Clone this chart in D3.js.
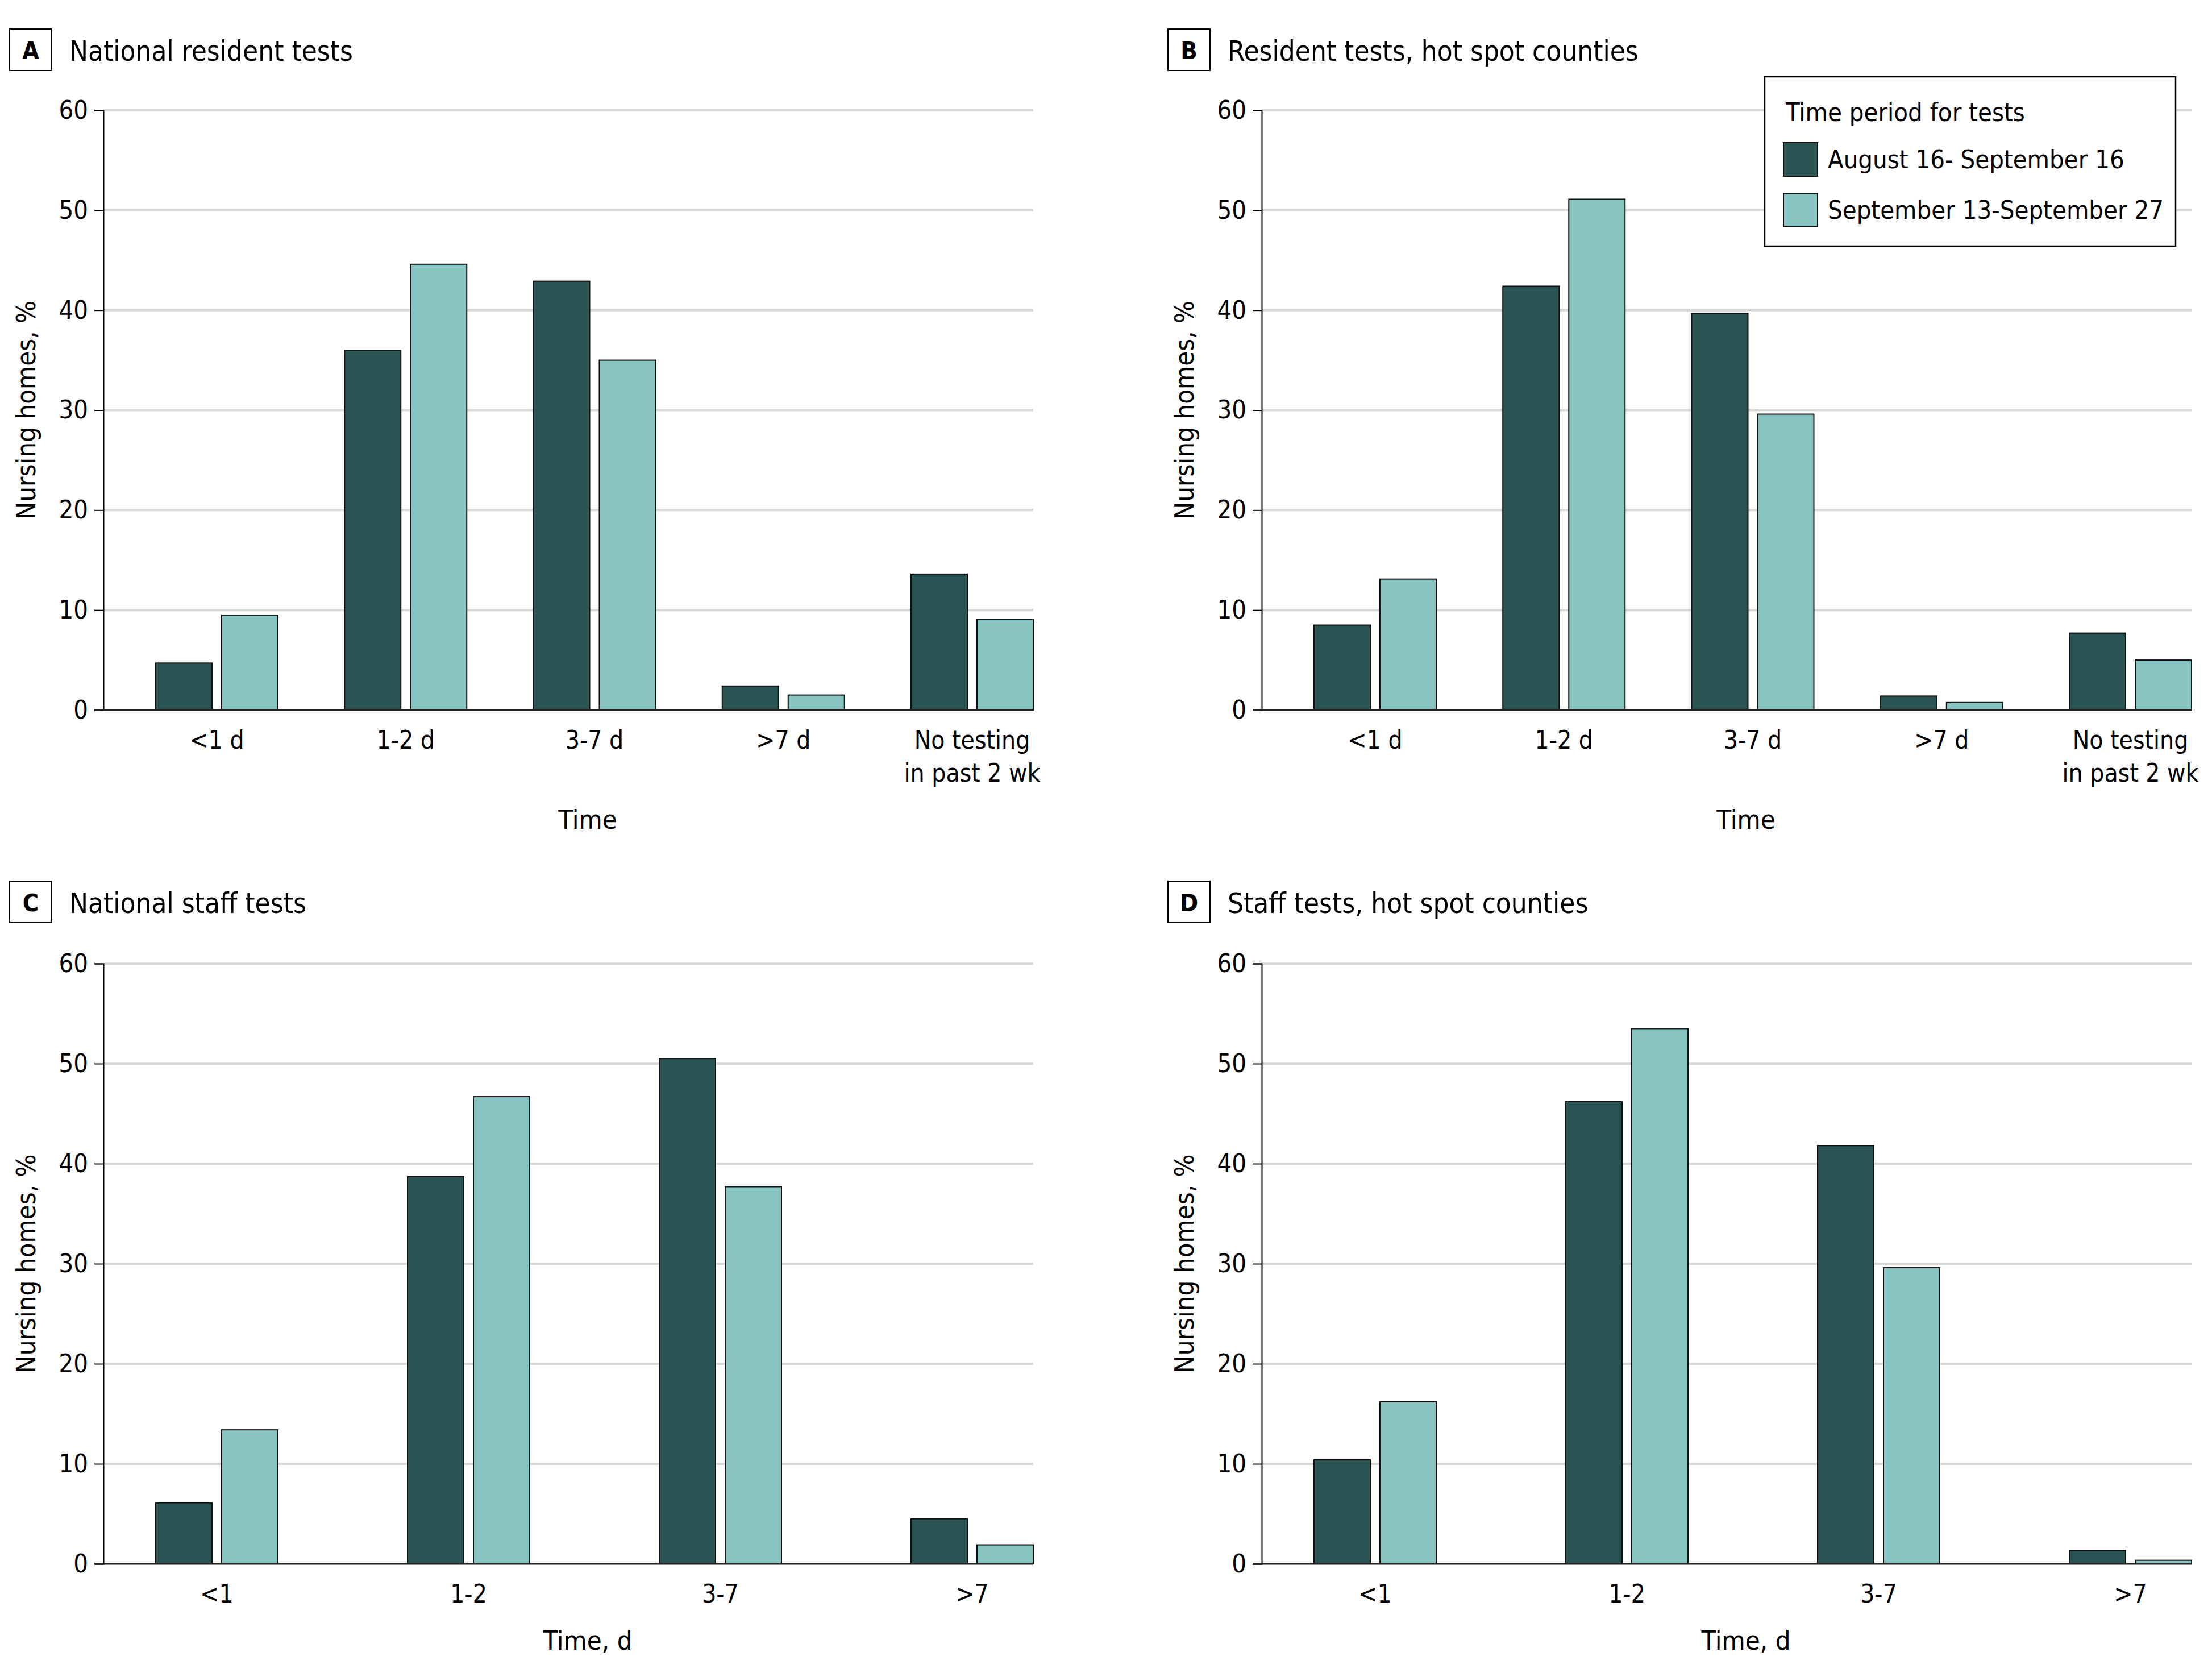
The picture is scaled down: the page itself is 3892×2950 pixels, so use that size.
<!DOCTYPE html>
<html>
<head>
<meta charset="utf-8">
<script src="https://cdn.jsdelivr.net/npm/d3@7/dist/d3.min.js"></script>
<style>
  html, body { margin: 0; padding: 0; background: #ffffff; }
  text { font-family: "Liberation Sans Narrow", "Arial Narrow", "DejaVu Sans Condensed", sans-serif; fill: #000; }
</style>
</head>
<body>
<svg id="chart" width="3892" height="2950"></svg>
<script>
// ---------------- data ----------------
const seriesNames = ["August 16- September 16", "September 13-September 27"];
const residentCategories = ["<1 d", "1-2 d", "3-7 d", ">7 d", "No testing\nin past 2 wk"];
const staffCategories = ["<1", "1-2", "3-7", ">7"];
const yTickValues = [0, 10, 20, 30, 40, 50, 60];

const nationalResidentAug = [4.7, 36.0, 42.9, 2.4, 13.6];
const nationalResidentSep = [9.5, 44.6, 35.0, 1.5, 9.1];
const hotspotResidentAug = [8.5, 42.4, 39.7, 1.4, 7.7];
const hotspotResidentSep = [13.1, 51.1, 29.6, 0.75, 5.0];
const nationalStaffAug = [6.1, 38.7, 50.5, 4.5];
const nationalStaffSep = [13.4, 46.7, 37.7, 1.9];
const hotspotStaffAug = [10.4, 46.2, 41.8, 1.35];
const hotspotStaffSep = [16.2, 53.5, 29.6, 0.36];

const panelLetters = ["A", "B", "C", "D"];
const panelTitles = ["National resident tests", "Resident tests, hot spot counties", "National staff tests", "Staff tests, hot spot counties"];
const xAxisTitles = ["Time", "Time", "Time, d", "Time, d"];
const yAxisTitle = "Nursing homes, %";

// ---------------- style ----------------
const colors = ["#2a5453", "#87c3c1"];
const FONT = '"Liberation Sans Narrow", "Arial Narrow", "DejaVu Sans Condensed", sans-serif';
const svg = d3.select("#chart");

const panels = [
  { letter: panelLetters[0], title: panelTitles[0], cats: residentCategories, a: nationalResidentAug, b: nationalResidentSep, xt: xAxisTitles[0], left: 182, right: 1818, top: 194, bottom: 1249, boxY: 51, xtOff: 209 },
  { letter: panelLetters[1], title: panelTitles[1], cats: residentCategories, a: hotspotResidentAug, b: hotspotResidentSep, xt: xAxisTitles[1], left: 2220, right: 3856, top: 194, bottom: 1249, boxY: 51, xtOff: 209 },
  { letter: panelLetters[2], title: panelTitles[2], cats: staffCategories, a: nationalStaffAug, b: nationalStaffSep, xt: xAxisTitles[2], left: 182, right: 1818, top: 1695, bottom: 2751, boxY: 1550, xtOff: 151 },
  { letter: panelLetters[3], title: panelTitles[3], cats: staffCategories, a: hotspotStaffAug, b: hotspotStaffSep, xt: xAxisTitles[3], left: 2220, right: 3856, top: 1695, bottom: 2751, boxY: 1550, xtOff: 151 }
];

const groupWidth = 215, barWidth = 99, groupStart = 92;

panels.forEach(p => {
  const g = svg.append("g");
  const n = p.cats.length;
  const W = p.right - (p.left + groupStart);
  const pin = (W - groupWidth * n) / (W - groupWidth);
  const x0 = d3.scaleBand().domain(p.cats).range([p.left + groupStart, p.right]).paddingInner(pin).paddingOuter(0);
  const x1 = d3.scaleBand().domain([0, 1]).range([0, x0.bandwidth()]).paddingInner((groupWidth - 2 * barWidth) / (groupWidth - barWidth)).paddingOuter(0);
  const y = d3.scaleLinear().domain([0, 60]).range([p.bottom, p.top]);

  // panel label box + title
  g.append("rect").attr("x", p.left - 165).attr("y", p.boxY).attr("width", 74).attr("height", 73)
    .attr("fill", "#fff").attr("stroke", "#000").attr("stroke-width", 2);
  g.append("text").attr("x", p.left - 128).attr("y", p.boxY + 53).attr("text-anchor", "middle")
    .style("font-size", "43px").style("font-weight", "bold").text(p.letter);
  g.append("text").attr("x", p.left - 60).attr("y", p.boxY + 56).style("font-size", "49px").text(p.title);

  // gridlines
  g.append("g").selectAll("line").data(yTickValues.filter(v => v > 0)).join("line")
    .attr("x1", p.left).attr("x2", p.right).attr("y1", d => y(d)).attr("y2", d => y(d))
    .attr("stroke", "#d9d9d9").attr("stroke-width", 4);

  // y axis
  const ya = g.append("g").attr("transform", `translate(${p.left},0)`)
    .call(d3.axisLeft(y).tickValues(yTickValues).tickSize(16).tickSizeOuter(16).tickPadding(11));
  ya.selectAll("text").style("font-size", "45px").style("fill", "#000").style("font-family", FONT);
  ya.selectAll("line").attr("stroke", "#000").attr("stroke-width", 2);
  ya.select(".domain").attr("stroke", "#000").attr("stroke-width", 2);

  // bars
  const groups = g.append("g").selectAll("g").data(p.cats).join("g")
    .attr("transform", d => `translate(${x0(d)},0)`);
  groups.selectAll("rect").data((d, i) => [p.a[i], p.b[i]]).join("rect")
    .attr("x", (d, j) => x1(j)).attr("width", x1.bandwidth())
    .attr("y", d => y(d)).attr("height", d => y(0) - y(d))
    .attr("fill", (d, j) => colors[j]).attr("stroke", "#111").attr("stroke-width", 2);

  // baseline
  g.append("line").attr("x1", p.left - 16).attr("x2", p.right).attr("y1", y(0)).attr("y2", y(0))
    .attr("stroke", "#222").attr("stroke-width", 3);

  // category labels
  const cl = g.append("g").selectAll("text").data(p.cats).join("text")
    .attr("text-anchor", "middle").style("font-size", "44px")
    .attr("transform", d => `translate(${x0(d) + x0.bandwidth() / 2},${y(0) + 68})`);
  cl.each(function (d) {
    const lines = d.split("\n");
    d3.select(this).selectAll("tspan").data(lines).join("tspan")
      .attr("x", 0).attr("dy", (l, k) => k === 0 ? 0 : 58).text(l => l);
  });

  // x axis title
  g.append("text").attr("x", (p.left + p.right) / 2 + 34).attr("y", p.bottom + p.xtOff)
    .attr("text-anchor", "middle").style("font-size", "47px").text(p.xt);

  // y axis title
  g.append("text").attr("transform", `translate(${p.left - 120},${(p.top + p.bottom) / 2}) rotate(-90)`)
    .attr("text-anchor", "middle").style("font-size", "47px").text(yAxisTitle);
});

// legend (in panel B)
const lg = svg.append("g");
lg.append("rect").attr("x", 3105).attr("y", 135).attr("width", 723).attr("height", 298)
  .attr("fill", "#fff").attr("stroke", "#000").attr("stroke-width", 2.5);
lg.append("text").attr("x", 3142).attr("y", 213).style("font-size", "45px").text("Time period for tests");
const li = lg.selectAll("g.item").data(seriesNames).join("g").attr("class", "item")
  .attr("transform", (d, i) => `translate(3138,${251 + i * 89})`);
li.append("rect").attr("width", 60).attr("height", 59).attr("fill", (d, i) => colors[i])
  .attr("stroke", "#111").attr("stroke-width", 2);
li.append("text").attr("x", 78).attr("y", 45).style("font-size", "45px").text(d => d);
</script>
</body>
</html>
